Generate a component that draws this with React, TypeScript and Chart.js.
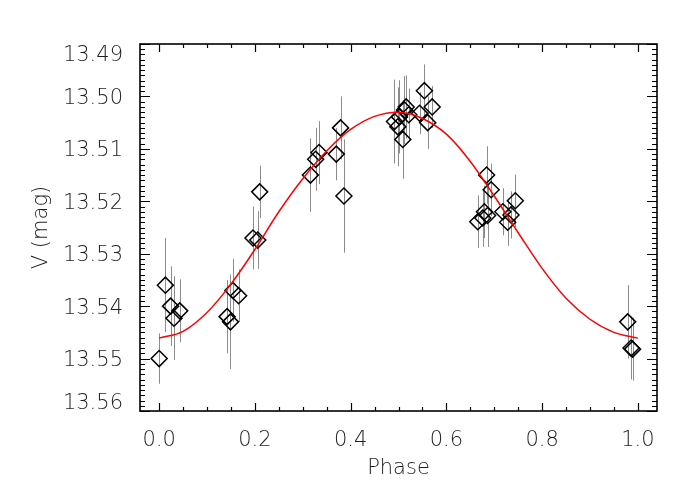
import React, { useEffect, useRef } from 'react';
import { Chart, registerables } from 'chart.js';

Chart.register(...registerables);

// Observations: phase, V magnitude, 1-sigma error
const phase = [
  0.0, 0.013, 0.024, 0.031, 0.043,
  0.142, 0.149, 0.154, 0.166, 0.196, 0.206, 0.21,
  0.316, 0.327, 0.334, 0.37, 0.379, 0.386,
  0.4916, 0.4986, 0.502, 0.509, 0.5125, 0.516, 0.5215, 0.544, 0.554, 0.561, 0.5703,
  0.684, 0.6935, 0.6795, 0.686, 0.6656, 0.676, 0.718, 0.744, 0.735, 0.728,
  0.9788, 0.9858, 0.989,
];
const vmag = [
  13.55, 13.536, 13.54, 13.5423, 13.5409,
  13.542, 13.543, 13.537, 13.538, 13.527, 13.5274, 13.5182,
  13.515, 13.512, 13.5107, 13.511, 13.506, 13.519,
  13.5048, 13.5058, 13.5039, 13.5082, 13.5026, 13.502, 13.5035, 13.5032, 13.4989, 13.505, 13.502,
  13.515, 13.5178, 13.522, 13.5227, 13.5239, 13.5232, 13.522, 13.5199, 13.5226, 13.524,
  13.543, 13.548, 13.5482,
];
const verr = [
  0.0048, 0.009, 0.0076, 0.008, 0.006,
  0.007, 0.009, 0.006, 0.005, 0.006, 0.0055, 0.005,
  0.007, 0.006, 0.006, 0.005, 0.006, 0.0108,
  0.008, 0.0075, 0.007, 0.0075, 0.0065, 0.006, 0.005, 0.004, 0.005, 0.005, 0.004,
  0.0055, 0.005, 0.005, 0.006, 0.005, 0.0055, 0.0045, 0.005, 0.0045, 0.0045,
  0.007, 0.006, 0.006,
];

// Fitted light curve
const fitPhase = [
  0.0, 0.05, 0.1, 0.15, 0.2, 0.25, 0.3, 0.35, 0.4, 0.45, 0.5,
  0.55, 0.6, 0.65, 0.7, 0.75, 0.8, 0.85, 0.9, 0.95, 1.0,
];
const fitMag = [
  13.5461, 13.5448, 13.5412, 13.5358, 13.5292, 13.522, 13.5157, 13.5104, 13.5063, 13.5038, 13.503,
  13.5042, 13.5072, 13.5124, 13.519, 13.526, 13.5328, 13.5385, 13.5425, 13.545, 13.5461,
];

const xTickValues = [0.0, 0.2, 0.4, 0.6, 0.8, 1.0];
const yTickValues = [13.49, 13.5, 13.51, 13.52, 13.53, 13.54, 13.55, 13.56];
const xMinorStep = 0.05;
const yMinorStep = 0.001;

const TEXT = '#1e1e1e';
const FONT = 'DejaVu Sans';
const WEIGHT = '300';

const errorBarPlugin = {
  id: 'errorBars',
  beforeDatasetsDraw(chart: any) {
    const { ctx, scales } = chart;
    const x = scales.x;
    const y = scales.y;
    ctx.save();
    ctx.strokeStyle = '#8c8c8c';
    ctx.lineWidth = 1;
    ctx.beginPath();
    phase.forEach((p, i) => {
      const px = Math.round(x.getPixelForValue(p)) + 0.5;
      ctx.moveTo(px, y.getPixelForValue(vmag[i] - verr[i]));
      ctx.lineTo(px, y.getPixelForValue(vmag[i] + verr[i]));
    });
    ctx.stroke();
    ctx.restore();
  },
};

const framePlugin = {
  id: 'frameTicks',
  afterDatasetsDraw(chart: any) {
    const { ctx, chartArea: a, scales } = chart;
    const x = scales.x;
    const y = scales.y;
    ctx.save();
    ctx.strokeStyle = '#000';
    ctx.lineWidth = 1.2;
    ctx.beginPath();
    const xMin = xTickValues[0];
    const xMax = xTickValues[xTickValues.length - 1];
    const nx = Math.round((xMax - xMin) / xMinorStep);
    for (let k = 0; k <= nx; k++) {
      const v = xMin + k * xMinorStep;
      const px = Math.round(x.getPixelForValue(v)) + 0.5;
      const len = k % 4 === 0 ? 8 : 4;
      ctx.moveTo(px, a.bottom);
      ctx.lineTo(px, a.bottom - len);
      ctx.moveTo(px, a.top);
      ctx.lineTo(px, a.top + len);
    }
    const yMin = yTickValues[0];
    const yMax = yTickValues[yTickValues.length - 1];
    const ny = Math.round((yMax - yMin) / yMinorStep);
    for (let k = 0; k <= ny; k++) {
      const v = yMin + k * yMinorStep;
      const py = Math.round(y.getPixelForValue(v)) + 0.5;
      const len = k % 10 === 0 ? 10 : 5;
      ctx.moveTo(a.left, py);
      ctx.lineTo(a.left + len, py);
      ctx.moveTo(a.right, py);
      ctx.lineTo(a.right - len, py);
    }
    ctx.stroke();
    ctx.lineWidth = 1.6;
    ctx.strokeRect(a.left, a.top, a.right - a.left, a.bottom - a.top);
    ctx.restore();
  },
};

const isFirstY = (n: number) => Math.abs(n - yTickValues[0]) < 1e-6;
const isLastY = (n: number) => Math.abs(n - yTickValues[yTickValues.length - 1]) < 1e-6;

export default function App() {
  const canvasRef = useRef<HTMLCanvasElement | null>(null);

  useEffect(() => {
    if (!canvasRef.current) return;
    const chart = new Chart(canvasRef.current, {
      type: 'scatter',
      data: {
        datasets: [
          {
            label: 'fit',
            data: fitPhase.map((p, i) => ({ x: p, y: fitMag[i] })),
            showLine: true,
            borderColor: '#ff0000',
            borderWidth: 1.5,
            pointRadius: 0,
            cubicInterpolationMode: 'monotone',
            order: 0,
          },
          {
            label: 'V',
            data: phase.map((p, i) => ({ x: p, y: vmag[i] })),
            pointStyle: 'rectRot',
            pointRadius: 8,
            borderColor: '#000',
            backgroundColor: 'rgba(0,0,0,0)',
            borderWidth: 1.5,
            order: 1,
          },
        ],
      },
      options: {
        animation: false,
        responsive: true,
        maintainAspectRatio: false,
        layout: { padding: { top: 44, right: 43, left: 0, bottom: 0 } },
        plugins: { legend: { display: false }, tooltip: { enabled: false } },
        scales: {
          x: {
            type: 'linear',
            min: -0.04,
            max: 1.04,
            grid: { display: false },
            border: { display: false },
            afterBuildTicks: (s: any) => {
              s.ticks = xTickValues.map((v) => ({ value: v }));
            },
            afterFit: (s: any) => {
              s.height = 89;
            },
            ticks: {
              padding: 9,
              color: TEXT,
              font: { family: FONT, size: 21, weight: WEIGHT },
              callback: (v: any) => Number(v).toFixed(1),
              maxRotation: 0,
            },
            title: {
              display: true,
              text: 'Phase',
              color: TEXT,
              font: { family: FONT, size: 21, weight: WEIGHT },
              padding: { top: 0, bottom: 19 },
            },
          },
          y: {
            type: 'linear',
            min: 13.49,
            max: 13.56,
            reverse: true,
            grid: { display: false },
            border: { display: false },
            afterBuildTicks: (s: any) => {
              s.ticks = yTickValues.map((v) => ({ value: v }));
            },
            afterFit: (s: any) => {
              s.width = 140;
            },
            ticks: {
              padding: 9,
              color: TEXT,
              font: (ctx: any) => {
                const n = ctx.tick ? Number(ctx.tick.value) : NaN;
                let lh = '4px';
                if (isFirstY(n)) lh = '24px';
                else if (isLastY(n)) lh = '14px';
                return { family: FONT, size: 21, weight: WEIGHT, lineHeight: lh };
              },
              callback: (v: any) => {
                const n = Number(v);
                const s = n.toFixed(2);
                if (isLastY(n)) return [s, ''];
                return ['', s];
              },
            },
            title: {
              display: true,
              text: 'V (mag)',
              color: TEXT,
              font: { family: FONT, size: 21, weight: WEIGHT },
              padding: { top: 29, bottom: 0 },
            },
          },
        },
      },
      plugins: [errorBarPlugin, framePlugin],
    } as any);
    return () => chart.destroy();
  }, []);

  return (
    <div style={{ position: 'fixed', left: 0, top: 0, width: 700, height: 500, background: '#fff' }}>
      <canvas ref={canvasRef} />
    </div>
  );
}
